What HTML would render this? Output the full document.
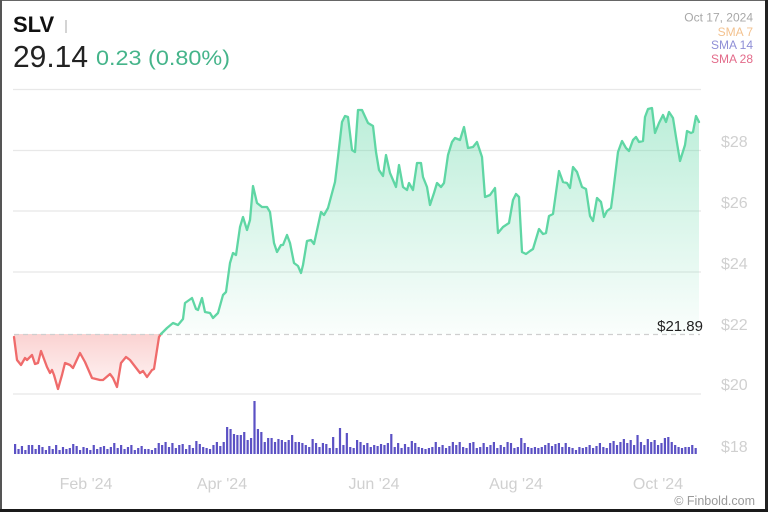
<!DOCTYPE html>
<html>
<head>
<meta charset="utf-8">
<style>
  html,body{margin:0;padding:0;background:#fff;}
  body{width:768px;height:512px;overflow:hidden;}
  svg{display:block;}
  text{font-family:"Liberation Sans",sans-serif;}
</style>
</head>
<body>
<svg width="768" height="512" viewBox="0 0 768 512" xmlns="http://www.w3.org/2000/svg">
  <defs>
    <linearGradient id="gg" x1="0" y1="108" x2="0" y2="334" gradientUnits="userSpaceOnUse">
      <stop offset="0" stop-color="#5ed6a4" stop-opacity="0.42"/>
      <stop offset="1" stop-color="#5ed6a4" stop-opacity="0.03"/>
    </linearGradient>
    <linearGradient id="rg" x1="0" y1="334" x2="0" y2="389" gradientUnits="userSpaceOnUse">
      <stop offset="0" stop-color="#ef5350" stop-opacity="0.26"/>
      <stop offset="1" stop-color="#ef5350" stop-opacity="0.06"/>
    </linearGradient>
  </defs>
  <rect x="0" y="0" width="768" height="512" fill="#fff"/>

  <!-- gridlines -->
  <g stroke="#e8e8e8" stroke-width="1.3">
    <line x1="13" y1="89.5" x2="701" y2="89.5"/>
    <line x1="13" y1="150.5" x2="701" y2="150.5"/>
    <line x1="13" y1="211" x2="701" y2="211"/>
    <line x1="13" y1="272" x2="701" y2="272"/>
    <line x1="13" y1="394" x2="701" y2="394"/>
  </g>

  <!-- fills -->
  <polygon fill="url(#rg)" points="14,337 17,360 21,365 25,358 27,360 30,357 32,355 35,364 38,363 41,351 44,359 47,367 50,373 52,370 54,375 58,389 62,375 65,363 70,365 73,368 80,353 85,362 92,378 100,380 103,380 110,374 113,378 117,387 121,363 126,357 130,360 140,373 143,371 147,377 152,370 154,369 159,337 161,334 14,334"/>
  <polygon fill="url(#gg)" points="161,334 163,332 167,328 173,323 178,325 183,319 185,303 192,298 196,309 198,310 202,298 205,312 210,313 213,318 218,313 223,295 226,292 230,263 233,253 236,255 240,227 243,217 247,230 250,220 253,186 257,203 262,207 267,207 270,212 274,243 277,252 281,245 283,245 287,235 290,243 294,263 298,266 301,273 303,265 307,241 311,240 314,244 321,212 324,215 328,208 335,182 338,157 342,122 345,116 348,117 352,150 355,152 358,110 362,110 368,123 373,126 376,152 379,170 383,176 386,155 390,173 396,187 399,165 403,187 407,190 409,183 413,190 417,163 421,163 423,177 427,187 430,205 434,193 437,183 441,187 444,183 448,155 452,142 455,138 460,140 464,127 468,148 473,147 477,142 482,157 485,197 490,195 495,188 498,233 503,227 509,223 513,200 516,194 519,197 522,252 526,254 530,251 533,249 539,229 543,234 546,233 549,216 553,214 559,171 563,182 567,183 570,188 573,167 577,172 582,187 586,189 590,216 593,221 597,198 601,202 604,217 607,211 611,208 613,193 618,152 622,141 626,148 629,151 633,140 636,137 639,142 643,141 645,117 648,109 652,108 655,133 659,123 663,115 666,122 669,112 673,118 676,137 680,161 685,145 687,131 691,133 693,132 696,116 699,122 699,334"/>

  <!-- baseline dashed -->
  <line x1="14" y1="334.5" x2="700" y2="334.5" stroke="#cfcfcf" stroke-width="1.2" stroke-dasharray="5 4"/>

  <!-- lines -->
  <polyline fill="none" stroke="#ef6b6b" stroke-width="2.3" stroke-linejoin="round" stroke-linecap="round" points="14,337 17,360 21,365 25,358 27,360 30,357 32,355 35,364 38,363 41,351 44,359 47,367 50,373 52,370 54,375 58,389 62,375 65,363 70,365 73,368 80,353 85,362 92,378 100,380 103,380 110,374 113,378 117,387 121,363 126,357 130,360 140,373 143,371 147,377 152,370 154,369 159,337 161,334"/>
  <polyline fill="none" stroke="#5fd6a4" stroke-width="2.3" stroke-linejoin="round" stroke-linecap="round" points="161,334 163,332 167,328 173,323 178,325 183,319 185,303 192,298 196,309 198,310 202,298 205,312 210,313 213,318 218,313 223,295 226,292 230,263 233,253 236,255 240,227 243,217 247,230 250,220 253,186 257,203 262,207 267,207 270,212 274,243 277,252 281,245 283,245 287,235 290,243 294,263 298,266 301,273 303,265 307,241 311,240 314,244 321,212 324,215 328,208 335,182 338,157 342,122 345,116 348,117 352,150 355,152 358,110 362,110 368,123 373,126 376,152 379,170 383,176 386,155 390,173 396,187 399,165 403,187 407,190 409,183 413,190 417,163 421,163 423,177 427,187 430,205 434,193 437,183 441,187 444,183 448,155 452,142 455,138 460,140 464,127 468,148 473,147 477,142 482,157 485,197 490,195 495,188 498,233 503,227 509,223 513,200 516,194 519,197 522,252 526,254 530,251 533,249 539,229 543,234 546,233 549,216 553,214 559,171 563,182 567,183 570,188 573,167 577,172 582,187 586,189 590,216 593,221 597,198 601,202 604,217 607,211 611,208 613,193 618,152 622,141 626,148 629,151 633,140 636,137 639,142 643,141 645,117 648,109 652,108 655,133 659,123 663,115 666,122 669,112 673,118 676,137 680,161 685,145 687,131 691,133 693,132 696,116 699,122"/>

  <!-- volume bars -->
  <path fill="#5b51c4" d="M14 454v-10h2.2v10zm3.42 0v-5h2.2v5zm3.42 0v-8h2.2v8zm3.42 0v-4h2.2v4zm3.42 0v-9h2.2v9zm3.42 0v-9h2.2v9zm3.42 0v-5h2.2v5zm3.42 0v-9h2.2v9zm3.42 0v-7h2.2v7zm3.42 0v-4h2.2v4zm3.42 0v-8h2.2v8zm3.42 0v-5h2.2v5zm3.42 0v-9h2.2v9zm3.42 0v-4h2.2v4zm3.42 0v-7h2.2v7zm3.42 0v-5h2.2v5zm3.42 0v-6h2.2v6zm3.42 0v-10h2.2v10zm3.42 0v-8h2.2v8zm3.42 0v-4h2.2v4zm3.42 0v-7h2.2v7zm3.42 0v-6h2.2v6zm3.42 0v-4h2.2v4zm3.42 0v-9h2.2v9zm3.42 0v-5h2.2v5zm3.42 0v-7h2.2v7zm3.42 0v-8h2.2v8zm3.42 0v-5h2.2v5zm3.42 0v-7h2.2v7zm3.42 0v-11h2.2v11zm3.42 0v-6h2.2v6zm3.42 0v-9h2.2v9zm3.42 0v-5h2.2v5zm3.42 0v-7h2.2v7zm3.42 0v-9h2.2v9zm3.42 0v-4h2.2v4zm3.42 0v-6h2.2v6zm3.42 0v-8h2.2v8zm3.42 0v-5h2.2v5zm3.42 0v-5h2.2v5zm3.42 0v-4h2.2v4zm3.42 0v-6h2.2v6zm3.42 0v-11h2.2v11zm3.42 0v-9h2.2v9zm3.42 0v-12h2.2v12zm3.42 0v-7h2.2v7zm3.42 0v-11h2.2v11zm3.42 0v-6h2.2v6zm3.42 0v-9h2.2v9zm3.42 0v-10h2.2v10zm3.42 0v-5h2.2v5zm3.42 0v-9h2.2v9zm3.42 0v-6h2.2v6zm3.42 0v-13h2.2v13zm3.42 0v-10h2.2v10zm3.42 0v-7h2.2v7zm3.42 0v-6h2.2v6zm3.42 0v-5h2.2v5zm3.42 0v-9h2.2v9zm3.42 0v-12h2.2v12zm3.42 0v-8h2.2v8zm3.42 0v-12h2.2v12zm3.42 0v-27h2.2v27zm3.42 0v-25h2.2v25zm3.42 0v-20h2.2v20zm3.42 0v-19h2.2v19zm3.42 0v-19h2.2v19zm3.42 0v-22h2.2v22zm3.42 0v-14h2.2v14zm3.42 0v-16h2.2v16zm3.42 0v-53h2.2v53zm3.42 0v-25h2.2v25zm3.42 0v-22h2.2v22zm3.42 0v-12h2.2v12zm3.42 0v-16h2.2v16zm3.42 0v-16h2.2v16zm3.42 0v-12h2.2v12zm3.42 0v-15h2.2v15zm3.42 0v-14h2.2v14zm3.42 0v-12h2.2v12zm3.42 0v-14h2.2v14zm3.42 0v-19h2.2v19zm3.42 0v-12h2.2v12zm3.42 0v-12h2.2v12zm3.42 0v-11h2.2v11zm3.42 0v-9h2.2v9zm3.42 0v-7h2.2v7zm3.42 0v-15h2.2v15zm3.42 0v-11h2.2v11zm3.42 0v-7h2.2v7zm3.42 0v-11h2.2v11zm3.42 0v-10h2.2v10zm3.42 0v-6h2.2v6zm3.42 0v-17h2.2v17zm3.42 0v-6h2.2v6zm3.42 0v-26h2.2v26zm3.42 0v-9h2.2v9zm3.42 0v-21h2.2v21zm3.42 0v-7h2.2v7zm3.42 0v-6h2.2v6zm3.42 0v-14h2.2v14zm3.42 0v-12h2.2v12zm3.42 0v-9h2.2v9zm3.42 0v-11h2.2v11zm3.42 0v-7h2.2v7zm3.42 0v-9h2.2v9zm3.42 0v-8h2.2v8zm3.42 0v-10h2.2v10zm3.42 0v-9h2.2v9zm3.42 0v-11h2.2v11zm3.42 0v-20h2.2v20zm3.42 0v-7h2.2v7zm3.42 0v-11h2.2v11zm3.42 0v-6h2.2v6zm3.42 0v-10h2.2v10zm3.42 0v-7h2.2v7zm3.42 0v-13h2.2v13zm3.42 0v-11h2.2v11zm3.42 0v-7h2.2v7zm3.42 0v-6h2.2v6zm3.42 0v-5h2.2v5zm3.42 0v-6h2.2v6zm3.42 0v-7h2.2v7zm3.42 0v-12h2.2v12zm3.42 0v-7h2.2v7zm3.42 0v-9h2.2v9zm3.42 0v-6h2.2v6zm3.42 0v-8h2.2v8zm3.42 0v-12h2.2v12zm3.42 0v-9h2.2v9zm3.42 0v-12h2.2v12zm3.42 0v-7h2.2v7zm3.42 0v-6h2.2v6zm3.42 0v-11h2.2v11zm3.42 0v-12h2.2v12zm3.42 0v-6h2.2v6zm3.42 0v-7h2.2v7zm3.42 0v-11h2.2v11zm3.42 0v-7h2.2v7zm3.42 0v-9h2.2v9zm3.42 0v-12h2.2v12zm3.42 0v-6h2.2v6zm3.42 0v-9h2.2v9zm3.42 0v-7h2.2v7zm3.42 0v-12h2.2v12zm3.42 0v-11h2.2v11zm3.42 0v-6h2.2v6zm3.42 0v-7h2.2v7zm3.42 0v-16h2.2v16zm3.42 0v-11h2.2v11zm3.42 0v-7h2.2v7zm3.42 0v-6h2.2v6zm3.42 0v-7h2.2v7zm3.42 0v-6h2.2v6zm3.42 0v-7h2.2v7zm3.42 0v-9h2.2v9zm3.42 0v-11h2.2v11zm3.42 0v-8h2.2v8zm3.42 0v-10h2.2v10zm3.42 0v-11h2.2v11zm3.42 0v-7h2.2v7zm3.42 0v-11h2.2v11zm3.42 0v-7h2.2v7zm3.42 0v-6h2.2v6zm3.42 0v-4h2.2v4zm3.42 0v-7h2.2v7zm3.42 0v-6h2.2v6zm3.42 0v-7h2.2v7zm3.42 0v-9h2.2v9zm3.42 0v-6h2.2v6zm3.42 0v-8h2.2v8zm3.42 0v-11h2.2v11zm3.42 0v-7h2.2v7zm3.42 0v-6h2.2v6zm3.42 0v-11h2.2v11zm3.42 0v-13h2.2v13zm3.42 0v-9h2.2v9zm3.42 0v-12h2.2v12zm3.42 0v-15h2.2v15zm3.42 0v-11h2.2v11zm3.42 0v-14h2.2v14zm3.42 0v-9h2.2v9zm3.42 0v-19h2.2v19zm3.42 0v-12h2.2v12zm3.42 0v-9h2.2v9zm3.42 0v-15h2.2v15zm3.42 0v-12h2.2v12zm3.42 0v-14h2.2v14zm3.42 0v-9h2.2v9zm3.42 0v-11h2.2v11zm3.42 0v-16h2.2v16zm3.42 0v-17h2.2v17zm3.42 0v-12h2.2v12zm3.42 0v-9h2.2v9zm3.42 0v-7h2.2v7zm3.42 0v-6h2.2v6zm3.42 0v-7h2.2v7zm3.42 0v-7h2.2v7zm3.42 0v-9h2.2v9zm3.42 0v-6h2.2v6z"/>

  <!-- y axis labels -->
  <g fill="#d0d0d0" font-size="16">
    <text x="721" y="147">$28</text>
    <text x="721" y="208">$26</text>
    <text x="721" y="269">$24</text>
    <text x="721" y="330">$22</text>
    <text x="721" y="390">$20</text>
    <text x="721" y="452">$18</text>
  </g>

  <!-- x axis labels -->
  <g fill="#d0d0d0" font-size="16" text-anchor="middle">
    <text x="86" y="489">Feb '24</text>
    <text x="222" y="489">Apr '24</text>
    <text x="374" y="489">Jun '24</text>
    <text x="516" y="489">Aug '24</text>
    <text x="658" y="489">Oct '24</text>
  </g>

  <!-- baseline price label -->
  <text x="703" y="331" font-size="15" fill="#222" text-anchor="end">$21.89</text>

  <!-- header -->
  <text x="13" y="32" font-size="22" font-weight="bold" fill="#111">SLV</text>
  <line x1="66" y1="20" x2="66" y2="33" stroke="#aaa" stroke-width="1"/>
  <text x="13" y="67" font-size="31" fill="#222" textLength="75" lengthAdjust="spacingAndGlyphs">29.14</text>
  <text x="96" y="65" font-size="21" fill="#45b48a" textLength="134" lengthAdjust="spacingAndGlyphs">0.23 (0.80%)</text>

  <!-- top-right legend -->
  <g font-size="12" text-anchor="end">
    <text x="753" y="21.5" fill="#a8a8a8">Oct 17, 2024</text>
    <text x="753" y="36" fill="#f3c28f">SMA 7</text>
    <text x="753" y="49" fill="#8f8fd6">SMA 14</text>
    <text x="753" y="63" fill="#e36b8a">SMA 28</text>
  </g>

  <!-- watermark -->
  <text x="755" y="505" font-size="12.5" fill="#9a9a9a" text-anchor="end">© Finbold.com</text>

  <!-- border -->
  <rect x="0" y="0" width="768" height="1" fill="#666"/>
  <rect x="0" y="0" width="2" height="512" fill="#555"/>
  <rect x="765" y="0" width="3" height="512" fill="#222"/>
  <rect x="0" y="509" width="768" height="3" fill="#1a1a1a"/>
</svg>
</body>
</html>
